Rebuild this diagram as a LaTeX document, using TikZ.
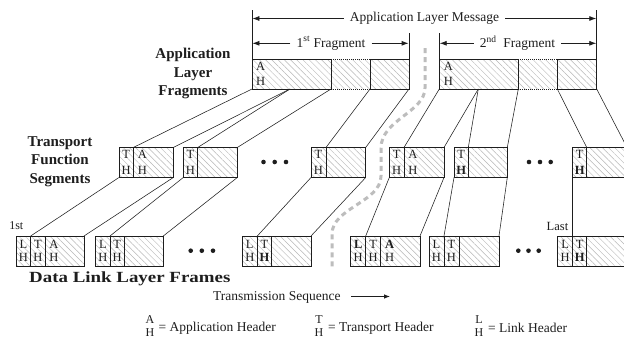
\documentclass[tikz,border=0pt]{standalone}
\usepackage{fontspec}
\setmainfont{Liberation Serif}
\usetikzlibrary{patterns.meta,arrows.meta}
\definecolor{ink}{HTML}{1E1E1E}
\definecolor{hatchc}{HTML}{B8B8B8}
\definecolor{seqc}{HTML}{BDBDBD}
\begin{document}
\begin{tikzpicture}[x=1pt,y=-1pt,
  hatched/.style={pattern={Lines[angle=-45,distance=4.4pt,line width=0.45pt]},pattern color=hatchc},
  boxline/.style={draw=ink,line width=0.9pt},
  dotline/.style={draw=ink,line width=0.9pt,dash pattern=on 1pt off 1pt},
  conn/.style={draw=ink,line width=0.55pt},
  tickline/.style={draw=ink,line width=0.8pt},
  dimarrow/.style={draw=ink,line width=0.8pt,-{Latex[length=7pt,width=5pt]}},
  cell/.style={font=\fontsize{12.5}{12}\selectfont,inner sep=0pt,text=ink},
  cellb/.style={font=\bfseries\fontsize{12.5}{12}\selectfont,inner sep=0pt,text=ink},
  lbl/.style={font=\bfseries\fontsize{15}{18.3}\selectfont,align=center,inner sep=0pt,text=ink},
  txt/.style={font=\fontsize{13.5}{16}\selectfont,inner sep=0pt,text=ink},
  gaptxt/.style={font=\fontsize{13.5}{16}\selectfont,inner ysep=1pt,inner xsep=6pt,fill=white,text=ink},
  bigdot/.style={circle,fill=ink,inner sep=0pt,minimum size=4.6pt},
  seqpath/.style={draw=seqc,line width=3pt,dash pattern=on 5pt off 4pt},
]
\useasboundingbox[fill=white] (0,0) rectangle (624,348);
\clip (0,0) rectangle (624,348);

% ---------- application layer fragments ----------
\foreach \n/\l/\a/\b/\r in {f1/252/331/370/409, f2/439.3/518.3/557.3/596.7}{
  \path[hatched] (\l,59) rectangle (\r,89);
  \draw[boxline] (\l,59) rectangle (\a,89);
  \draw[boxline] (\b,59) rectangle (\r,89);
  \draw[dotline] (\a,59) -- (\b,59);
  \draw[dotline] (\a,89) -- (\b,89);
  \coordinate (\n-l) at (\l,89);
  \coordinate (\n-a) at (\a,89);
  \coordinate (\n-b) at (\b,89);
  \coordinate (\n-r) at (\r,89);
  \coordinate (\n-lt) at (\l,59);
  \coordinate (\n-rt) at (\r,59);
}
\coordinate (f1-m) at (290,89);
\coordinate (f2-m) at (478.3,89);
\node[cell] (fa1) at (260.7,66) {A};
\node[cell] (fh1) at (260.7,81.5) {H};
\node[cell] (fa2) at (448.3,66) {A};
\node[cell] (fh2) at (448.3,81.5) {H};

% ---------- transport function segments ----------
\foreach \n/\l/\d/\r in {s1/119/133.3/173.3, s2/183.3/197.7/237.3, s3/311/326/365.7,
                         s4/389.3/404/444, s5/454/468.3/507.3, s6/572.7/586.7/627}{
  \path[hatched] (\l,147.5) rectangle (\r,177.5);
  \draw[boxline] (\l,147.5) rectangle (\r,177.5);
  \draw[boxline] (\d,147.5) -- (\d,177.5);
  \coordinate (\n-d) at (\d,147.5);
  \coordinate (\n-r) at (\r,147.5);
  \coordinate (\n-bl) at (\l,177.5);
  \coordinate (\n-br) at (\r,177.5);
}
\foreach \n/\x in {1/126.2, 2/190.5, 3/318.5, 4/396.7}{
  \node[cell] (st\n) at (\x,154.5) {T};
  \node[cell] (sh\n) at (\x,170.5) {H};
}
\foreach \n/\x in {5/461.2, 6/579.7}{
  \node[cell] (st\n) at (\x,154.5) {T};
  \node[cellb] (sh\n) at (\x,170.5) {H};
}
\node[cell] (sa1) at (142.3,154.5) {A};
\node[cell] (sah1) at (142.3,170.5) {H};
\node[cell] (sa4) at (413,154.5) {A};
\node[cell] (sah4) at (413,170.5) {H};
\node[bigdot] (sd1) at (263.5,162) {};
\node[bigdot] (sd2) at (274.7,162) {};
\node[bigdot] (sd3) at (286,162) {};
\node[bigdot] (sd4) at (529,162) {};
\node[bigdot] (sd5) at (540,162) {};
\node[bigdot] (sd6) at (550.7,162) {};

% ---------- data link layer frames ----------
\foreach \n/\l/\p/\q/\r in {d1/16/30.7/45/84, d2/95.7/110/124.3/163.3, d3/242.3/257.3/271.7/311,
                            d4/350.7/365.7/380.7/420, d5/429/444/459/499, d6/557.7/572.7/586.7/628}{
  \path[hatched] (\l,236) rectangle (\r,266);
  \draw[boxline] (\l,236) rectangle (\r,266);
  \draw[boxline] (\p,236) -- (\p,266);
  \draw[boxline] (\q,236) -- (\q,266);
  \coordinate (\n-p) at (\p,236);
  \coordinate (\n-r) at (\r,236);
}
\foreach \n/\lx/\tx in {1/23.4/37.9, 2/102.9/117.2, 5/436.5/451.5}{
  \node[cell] (dl\n) at (\lx,244) {L};
  \node[cell] (dlh\n) at (\lx,257.5) {H};
  \node[cell] (dt\n) at (\tx,244) {T};
  \node[cell] (dth\n) at (\tx,257.5) {H};
}
\foreach \n/\lx/\tx in {3/249.8/264.5, 6/565.2/579.7}{
  \node[cell] (dl\n) at (\lx,244) {L};
  \node[cell] (dlh\n) at (\lx,257.5) {H};
  \node[cell] (dt\n) at (\tx,244) {T};
  \node[cellb] (dth\n) at (\tx,257.5) {H};
}
\node[cellb] (dl4) at (358.2,244) {L};
\node[cell] (dlh4) at (358.2,257.5) {H};
\node[cell] (dt4) at (373.2,244) {T};
\node[cell] (dth4) at (373.2,257.5) {H};
\node[cell] (da1) at (54,244) {A};
\node[cell] (dah1) at (54,257.5) {H};
\node[cellb] (da4) at (389.7,244) {A};
\node[cell] (dah4) at (389.7,257.5) {H};
\node[bigdot] (dd1) at (190.7,250.7) {};
\node[bigdot] (dd2) at (201.8,250.7) {};
\node[bigdot] (dd3) at (213,250.7) {};
\node[bigdot] (dd4) at (518.3,250.7) {};
\node[bigdot] (dd5) at (528.5,250.7) {};
\node[bigdot] (dd6) at (538.7,250.7) {};

% ---------- connectors: fragments -> segments ----------
\draw[conn] (f1-l) -- (s1-d);
\draw[conn] (f1-m) -- (s1-r);
\draw[conn] (f1-m) -- (s2-d);
\draw[conn] (f1-a) -- (s2-r);
\draw[conn] (f1-b) -- (s3-d);
\draw[conn] (f1-r) -- (s3-r);
\draw[conn] (f2-l) -- (s4-d);
\draw[conn] (f2-m) -- (s4-r);
\draw[conn] (f2-m) -- (s5-d);
\draw[conn] (f2-a) -- (s5-r);
\draw[conn] (f2-b) -- (s6-d);
\draw[conn] (f2-r) -- (s6-r);

% ---------- connectors: segments -> frames ----------
\draw[conn] (s1-bl) -- (d1-p);
\draw[conn] (s1-br) -- (d1-r);
\draw[conn] (s2-bl) -- (d2-p);
\draw[conn] (s2-br) -- (d2-r);
\draw[conn] (s3-bl) -- (d3-p);
\draw[conn] (s3-br) -- (d3-r);
\draw[conn] (s4-bl) -- (d4-p);
\draw[conn] (s4-br) -- (d4-r);
\draw[conn] (s5-bl) -- (d5-p);
\draw[conn] (s5-br) -- (d5-r);
\draw[conn] (s6-bl) -- (d6-p);
\draw[conn] (s6-br) -- (d6-r);

% ---------- top dimension lines ----------
\coordinate (t1) at (252,10);
\coordinate (t2) at (596.7,10);
\coordinate (t3) at (409,33);
\coordinate (t4) at (439.3,33);
\coordinate (f1-bt) at (409,59);
\coordinate (f2-lt2) at (439.3,59);
\draw[tickline] (t1) -- (f1-lt);
\draw[tickline] (t2) -- (f2-rt);
\draw[tickline] (t3) -- (f1-bt);
\draw[tickline] (t4) -- (f2-lt2);
\node[gaptxt] (msg) at (424.4,18.5) {Application Layer Message};
\coordinate (mL) at (252.4,18.5);
\coordinate (mR) at (596.3,18.5);
\draw[dimarrow] (msg.west) -- (mL);
\draw[dimarrow] (msg.east) -- (mR);
\node[gaptxt] (fr1) at (331,43.3) {1\textsuperscript{st} Fragment};
\coordinate (a1L) at (252.4,43.3);
\coordinate (a1R) at (408.6,43.3);
\draw[dimarrow] (fr1.west) -- (a1L);
\draw[dimarrow] (fr1.east) -- (a1R);
\node[gaptxt] (fr2) at (517.5,43.3) {2\textsuperscript{nd}\ \ Fragment};
\coordinate (a2L) at (439.7,43.3);
\coordinate (a2R) at (596.3,43.3);
\draw[dimarrow] (fr2.west) -- (a2L);
\draw[dimarrow] (fr2.east) -- (a2R);

% ---------- transmission sequence divider ----------
\draw[seqpath] (425,48) -- (425,88) .. controls (425,112) and (381,120) .. (381,148)
  -- (381,176) .. controls (381,202) and (332,208) .. (332,234) -- (332,268);

% ---------- labels ----------
\node[lbl] (alf) at (193,73.5) {Application\\Layer\\Fragments};
\node[lbl] (tfs) at (60,161.7) {Transport\\Function\\Segments};
\node[font=\bfseries\fontsize{15.5}{18}\selectfont,inner sep=0pt,anchor=west,text=ink] (dll) at (29,278.5)
  {\scalebox{1.22}[1]{Data Link Layer Frames}};
\node[font=\fontsize{12}{12}\selectfont,inner sep=0pt,text=ink] (first) at (16.3,226) {1st};
\node[font=\fontsize{12.5}{12}\selectfont,inner sep=0pt,text=ink] (last) at (557.5,226) {Last};
\node[txt,anchor=west] (tseq) at (213,297.5) {Transmission Sequence};
\coordinate (sqa) at (351,296.5);
\coordinate (sqb) at (390,296.5);
\draw[line width=0.8pt,draw=ink,-{Latex[length=6pt,width=4.5pt]}] (sqa) -- (sqb);

% ---------- legend ----------
\node[font=\fontsize{12}{12}\selectfont,inner sep=0pt,text=ink] (lga) at (150,320) {A};
\node[font=\fontsize{12}{12}\selectfont,inner sep=0pt,text=ink] (lgah) at (150,333) {H};
\node[txt,anchor=west] (lgat) at (158.5,328) {= Application Header};
\node[font=\fontsize{12}{12}\selectfont,inner sep=0pt,text=ink] (lgt) at (319,320) {T};
\node[font=\fontsize{12}{12}\selectfont,inner sep=0pt,text=ink] (lgth) at (319,333) {H};
\node[txt,anchor=west] (lgtt) at (328,328) {= Transport Header};
\node[font=\fontsize{12}{12}\selectfont,inner sep=0pt,text=ink] (lgl) at (479,320) {L};
\node[font=\fontsize{12}{12}\selectfont,inner sep=0pt,text=ink] (lglh) at (479,333) {H};
\node[txt,anchor=west] (lglt) at (488,328) {= Link Header};
\end{tikzpicture}
\end{document}
